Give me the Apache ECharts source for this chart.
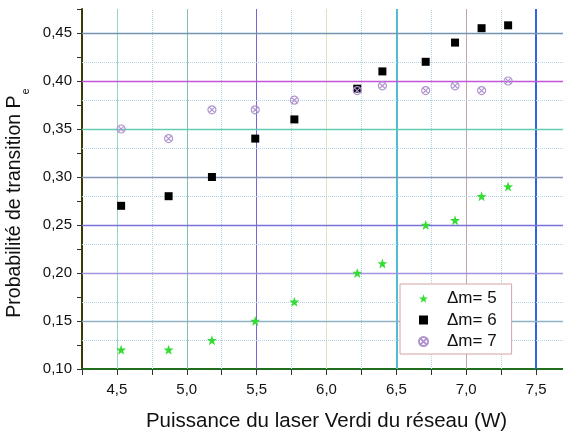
<!DOCTYPE html>
<html><head><meta charset="utf-8">
<script src="https://cdn.jsdelivr.net/npm/echarts@6/dist/echarts.min.js"></script>
<style>html,body{margin:0;padding:0;background:#fff}#c{width:563px;height:433px}</style>
</head><body><div id="c"></div>
<script>
// ---- data ----
const powerW = [4.53, 4.87, 5.18, 5.49, 5.77, 6.22, 6.40, 6.71, 6.92, 7.11, 7.30];
const dm5 = [0.12, 0.12, 0.13, 0.15, 0.17, 0.20, 0.21, 0.25, 0.255, 0.28, 0.29];
const dm6 = [0.27, 0.28, 0.30, 0.34, 0.36, 0.392, 0.41, 0.42, 0.44, 0.455, 0.458];
const dm7 = [0.35, 0.34, 0.37, 0.37, 0.38, 0.39, 0.395, 0.39, 0.395, 0.39, 0.40];
const seriesNames = ['Δm= 5', 'Δm= 6', 'Δm= 7'];
const xMajor = [4.5, 5.0, 5.5, 6.0, 6.5, 7.0, 7.5];
const xMinor = [4.75, 5.25, 5.75, 6.25, 6.75, 7.25];
const yMajor = [0.15, 0.20, 0.25, 0.30, 0.35, 0.40, 0.45];
const yMinor = [0.125, 0.175, 0.225, 0.275, 0.325, 0.375, 0.425];
const xTitle = 'Puissance du laser Verdi du réseau (W)';
const yTitle = 'Probabilité de transition P';
const ySub = 'e';

// ---- styles ----
const FONT = '"Liberation Sans", Arial, sans-serif';
const xMajorColors = ['#98d4bc', '#80c4a4', '#7466d4', '#d8e8b4', '#52bcd4', '#c4a4a4', '#3462e0'];
const xMajorWidths = [1, 1, 1, 1, 2, 1, 2];
const yMajorColors = ['#90b2c4', '#a494e0', '#7a70d8', '#8494b4', '#64cab4', '#c454d8', '#7494b4'];
const minorColor = '#b0d2e6';
const STAR = 'path://M10,0 L12.35,6.76 L19.51,6.91 L13.8,11.24 L15.88,18.09 L10,14 L4.12,18.09 L6.2,11.24 L0.49,6.91 L7.65,6.76 Z';
const CIRCX = 'path://M0,10 A10,10 0 1,1 20,10 A10,10 0 1,1 0,10 Z M3,3 L17,17 M17,3 L3,17';

const gridLines = [];
xMajor.forEach((v, i) => gridLines.push({xAxis: v, lineStyle: {color: xMajorColors[i], width: xMajorWidths[i], type: 'solid'}}));
xMinor.forEach(v => gridLines.push({xAxis: v, lineStyle: {color: minorColor, width: 1, type: 'dotted'}}));
yMajor.forEach((v, i) => gridLines.push({yAxis: v, lineStyle: {color: yMajorColors[i], width: 1.3, type: 'solid'}}));
yMinor.forEach(v => gridLines.push({yAxis: v, lineStyle: {color: minorColor, width: 1, type: 'dotted'}}));

const pairs = arr => powerW.map((x, i) => [x, arr[i]]);
const isMult = (v, s) => Math.abs(v / s - Math.round(v / s)) < 1e-6;

const chart = echarts.init(document.getElementById('c'), null, {renderer: 'canvas'});
chart.setOption({
  animation: false,
  backgroundColor: '#fff',
  grid: {left: 82, right: -8, top: 9, bottom: 64, outerBoundsMode: 'none', containLabel: false},
  xAxis: {
    type: 'value', min: 4.25, max: 7.75, interval: 0.25,
    name: xTitle, nameLocation: 'middle', nameGap: 42,
    nameTextStyle: {fontFamily: FONT, fontSize: 20.5, color: '#111'},
    axisLine: {show: true, onZero: false, lineStyle: {color: '#1f6f1f', width: 2}},
    axisTick: {show: true, inside: false, length: 6, lineStyle: {color: '#333'}},
    axisLabel: {fontFamily: FONT, fontSize: 15, color: '#111', margin: 13,
      formatter: v => isMult(v, 0.5) ? v.toFixed(1).replace('.', ',') : ''},
    splitLine: {show: false}
  },
  yAxis: {
    type: 'value', min: 0.1, max: 0.475, interval: 0.025,
    name: '{a|' + yTitle + '}{s|' + ySub + '}', nameLocation: 'middle', nameGap: 43, nameRotate: 90,
    nameTextStyle: {fontFamily: FONT, fontSize: 19.5, color: '#111', padding: [0, 28, 0, 0],
      rich: {
        a: {fontFamily: FONT, fontSize: 19.5, color: '#111', lineHeight: 22, verticalAlign: 'top'},
        s: {fontFamily: FONT, fontSize: 11, color: '#111', verticalAlign: 'top', padding: [16, 0, 0, 1]}
      }},
    axisLine: {show: true, onZero: false, lineStyle: {color: '#3a3a08', width: 2}},
    axisTick: {show: true, inside: false, length: 5, lineStyle: {color: '#333'}},
    axisLabel: {fontFamily: FONT, fontSize: 15, color: '#111', margin: 10,
      formatter: v => isMult(v, 0.05) ? v.toFixed(2).replace('.', ',') : ''},
    splitLine: {show: false}
  },
  legend: {
    orient: 'vertical', left: 400, top: 284,
    backgroundColor: '#fff', borderColor: '#d4a4a4', borderWidth: 1,
    padding: [6, 15, 4, 18], itemGap: 4.5, itemWidth: 9, itemHeight: 9,
    textStyle: {fontFamily: FONT, fontSize: 17, color: '#111', padding: [0, 0, 0, 14]},
    data: seriesNames
  },
  series: [
    {type: 'line', data: [], silent: true, z: 1,
     markLine: {silent: true, z: 1, symbol: 'none', label: {show: false}, animation: false, data: gridLines}},
    {name: seriesNames[0], type: 'scatter', z: 3, data: pairs(dm5), symbol: STAR, symbolSize: 10,
     itemStyle: {color: '#34dc34', opacity: 1}},
    {name: seriesNames[1], type: 'scatter', z: 3, data: pairs(dm6), symbol: 'rect', symbolSize: 8,
     itemStyle: {color: '#000', opacity: 1}},
    {name: seriesNames[2], type: 'scatter', z: 4, data: pairs(dm7), symbol: CIRCX, symbolSize: 8,
     itemStyle: {color: 'rgba(0,0,0,0)', borderColor: '#b094d0', borderWidth: 1.2, opacity: 1}}
  ]
});
</script></body></html>
